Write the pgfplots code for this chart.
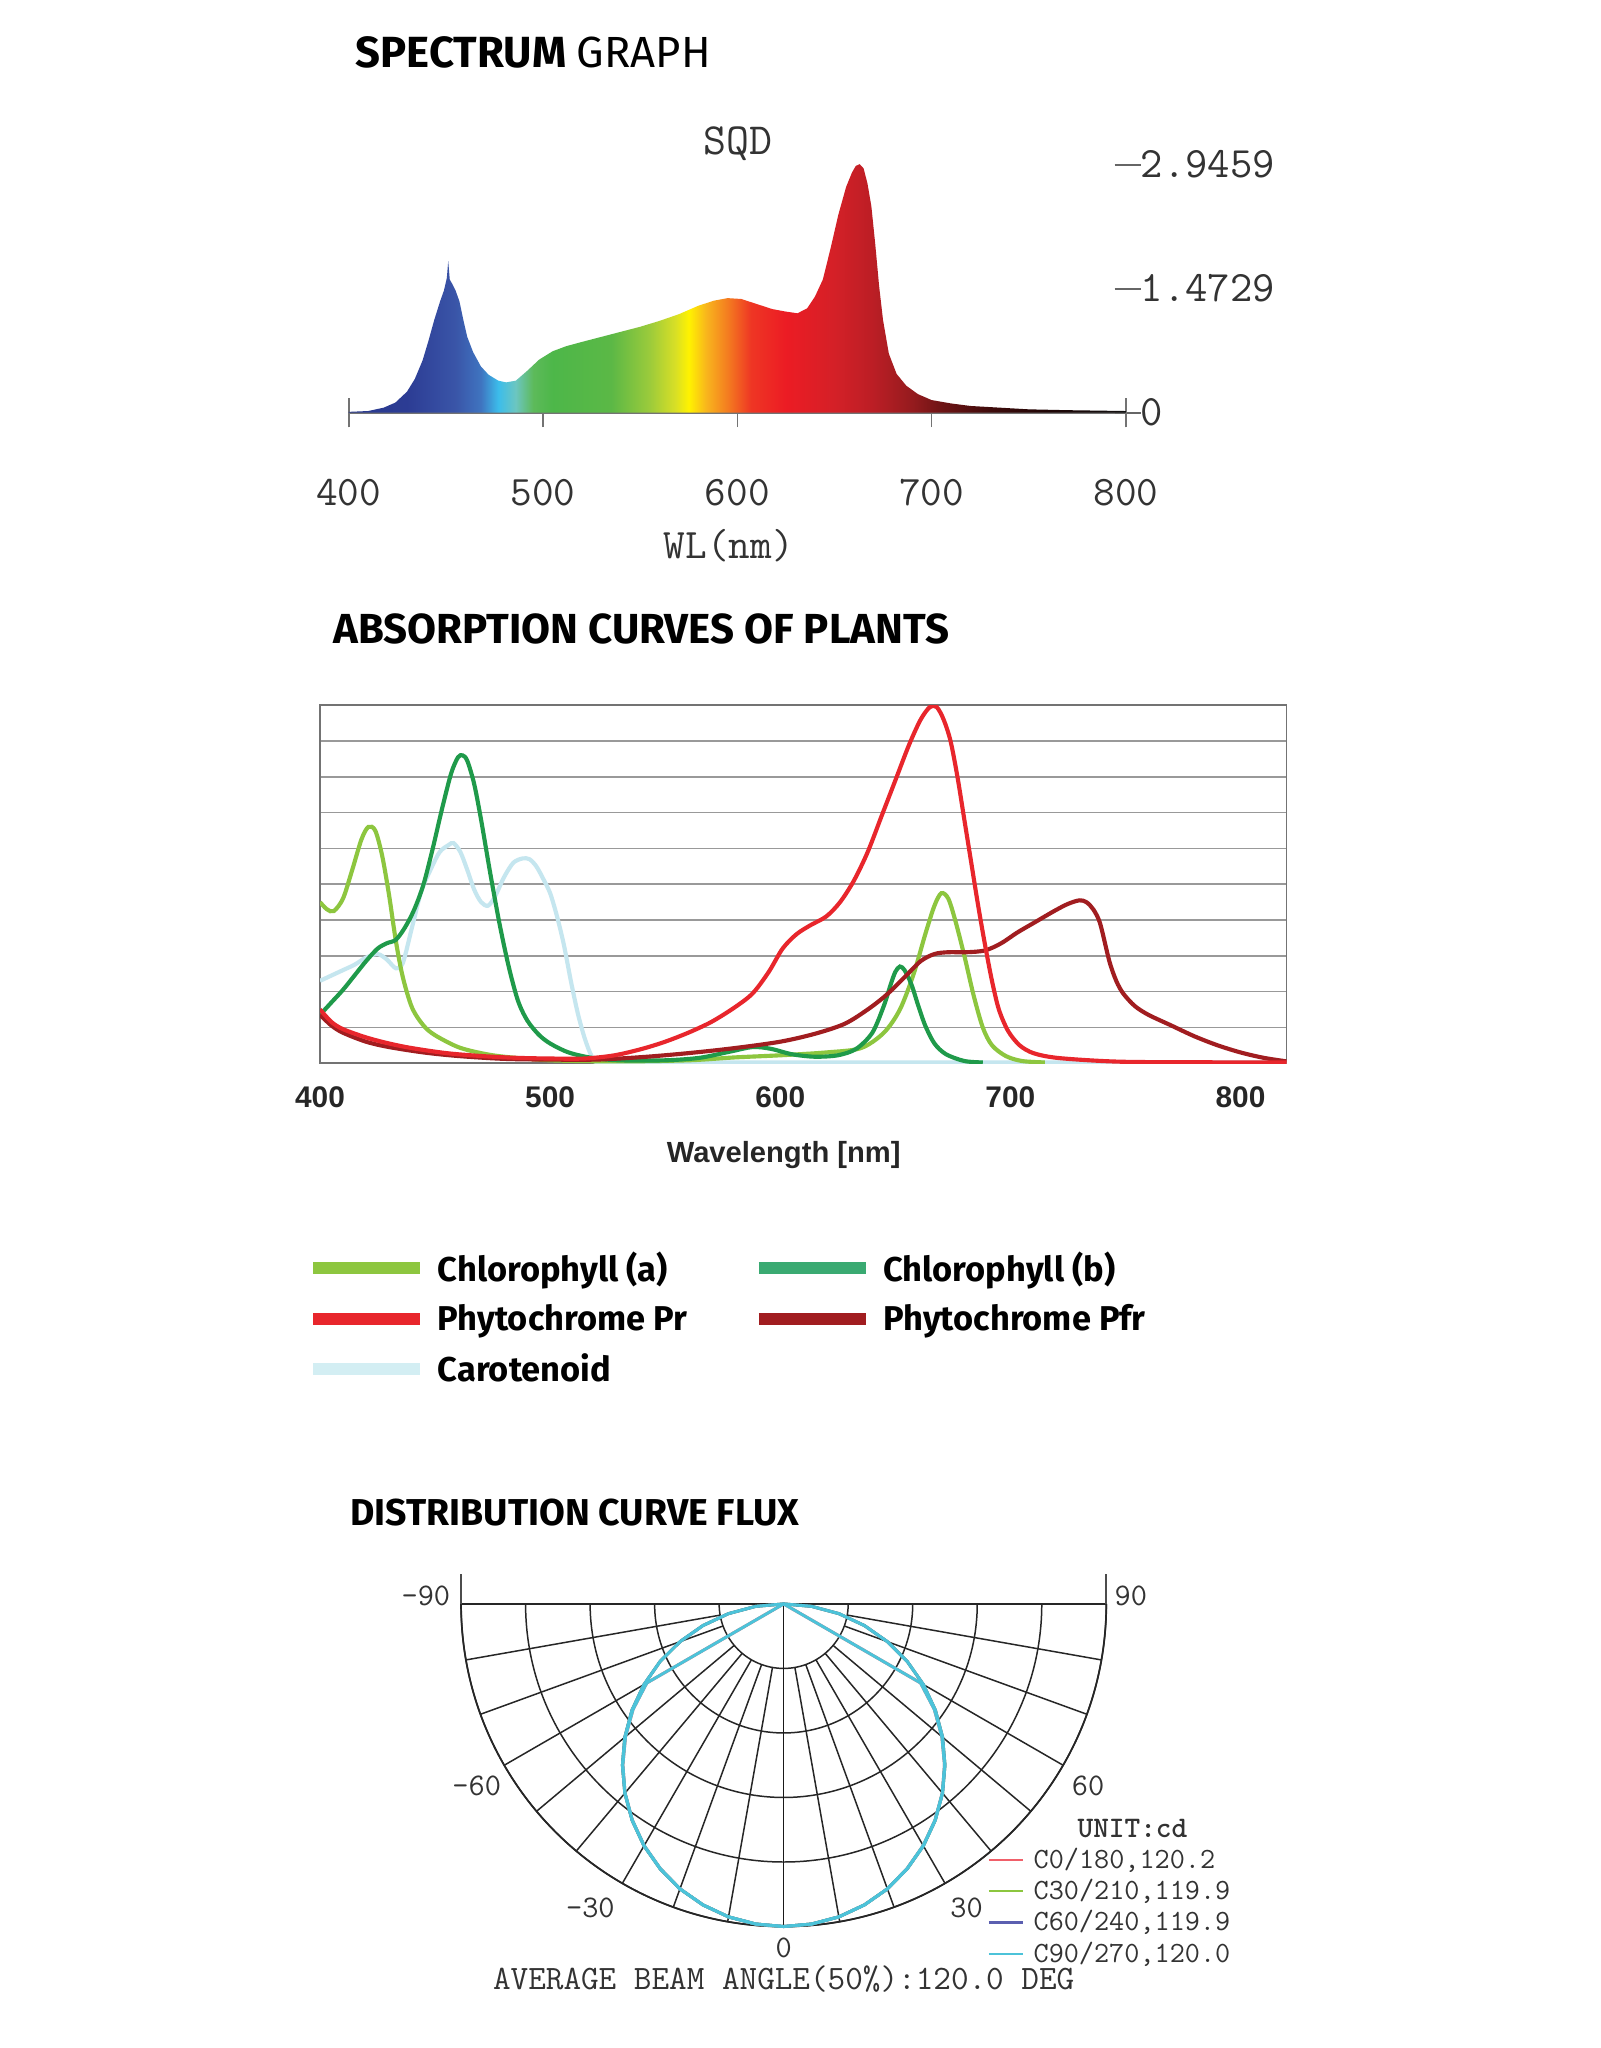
\documentclass[border=0pt]{standalone}
\usepackage{pgfplots}
\pgfplotsset{compat=1.18}
\usepgfplotslibrary{polar}
\usepackage{fontspec}
\setmainfont{Liberation Sans}
\newfontfamily\fira{Fira Sans}
\newcommand{\mono}{\ttfamily}

\definecolor{s400}{HTML}{2A3A8E}
\definecolor{s430}{HTML}{2C3C94}
\definecolor{s455}{HTML}{3A55A8}
\definecolor{s468}{HTML}{3F74C0}
\definecolor{s477}{HTML}{3CBDEB}
\definecolor{s486}{HTML}{6CC6C0}
\definecolor{s495}{HTML}{5DBA5A}
\definecolor{s505}{HTML}{4DB749}
\definecolor{s535}{HTML}{5BB846}
\definecolor{s555}{HTML}{9CCB3B}
\definecolor{s568}{HTML}{D8DF26}
\definecolor{s575}{HTML}{FFF200}
\definecolor{s584}{HTML}{F8B51D}
\definecolor{s595}{HTML}{F47C20}
\definecolor{s607}{HTML}{EE3624}
\definecolor{s625}{HTML}{EC1C24}
\definecolor{s650}{HTML}{D42027}
\definecolor{s670}{HTML}{BB1E25}
\definecolor{s690}{HTML}{951B1E}
\definecolor{s705}{HTML}{6E1415}
\definecolor{s730}{HTML}{3F0B0B}
\definecolor{s760}{HTML}{1E0505}
\definecolor{s800}{HTML}{111111}
\pgfdeclarehorizontalshading{spectrum}{100bp}{color(0bp)=(s400); color(25bp)=(s400);
 color(28.75bp)=(s430); color(31.875bp)=(s455); color(33.5bp)=(s468); color(34.625bp)=(s477);
 color(35.75bp)=(s486); color(36.875bp)=(s495); color(38.125bp)=(s505); color(41.875bp)=(s535);
 color(44.375bp)=(s555); color(46bp)=(s568); color(46.875bp)=(s575); color(48bp)=(s584);
 color(49.375bp)=(s595); color(50.875bp)=(s607); color(53.125bp)=(s625); color(56.25bp)=(s650);
 color(58.75bp)=(s670); color(61.25bp)=(s690); color(63.125bp)=(s705); color(66.25bp)=(s730);
 color(70bp)=(s760); color(75bp)=(s800); color(100bp)=(s800)}

\definecolor{cha}{HTML}{8DC63F}
\definecolor{chb}{HTML}{1F9A4A}
\definecolor{chbl}{HTML}{3AAA72}
\definecolor{ppr}{HTML}{E8262C}
\definecolor{pfr}{HTML}{A11D20}
\definecolor{car}{HTML}{C5E6EF}
\definecolor{carl}{HTML}{D3EEF3}
\definecolor{pcyan}{HTML}{4CC3D9}
\definecolor{pred}{HTML}{F0606A}
\definecolor{pgreen}{HTML}{8CC63F}
\definecolor{pblue}{HTML}{5B5FB0}
\definecolor{txtgray}{HTML}{333333}

\begin{document}
\begin{tikzpicture}
\fill[white] (0,0) rectangle (24.5,31.36);
\path[use as bounding box] (0,0) rectangle (24.5,31.36);

% ---------- titles ----------
\node[anchor=base west, inner sep=0] at (5.44,30.32) {\fira\fontsize{19}{22}\selectfont\bfseries SPECTRUM \mdseries GRAPH};
\node[anchor=base west, inner sep=0] at (5.10,21.50) {\fira\fontsize{18.3}{22}\selectfont\bfseries ABSORPTION CURVES OF PLANTS};
\node[anchor=base west, inner sep=0] at (5.36,8.00) {\fira\fontsize{16.3}{20}\selectfont\bfseries DISTRIBUTION CURVE FLUX};

% ---------- spectrum ----------
\begin{axis}[
  at={(5.34cm,25.04cm)}, anchor=south west, scale only axis,
  width=11.9cm, height=3.87cm,
  xmin=400, xmax=800, ymin=0, ymax=3,
  axis x line*=bottom, axis y line*=right, separate axis lines,
  x axis line style={-, draw=black!55, line width=0.7pt},
  y axis line style={draw=none},
  xtick={400,500,600,700,800},
  xticklabels={400,500,600,700,800},
  ytick={0,1.4729,2.9459},
  yticklabels={{\textcolor{black!60}{\rule[0.28em]{0.4cm}{0.7pt}}0},{\textcolor{black!60}{\rule[0.28em]{0.4cm}{0.7pt}}1.4729},{\textcolor{black!60}{\rule[0.28em]{0.4cm}{0.7pt}}2.9459}},
  tick align=outside, major tick length=0.22cm,
  tick style={black!55, line width=0.7pt},
  ytick style={draw=none},
  /pgf/number format/assume math mode=true,
  xticklabel style={font=\mono\fontsize{18.3}{20}\selectfont, text=txtgray, yshift=-0.67cm},
  yticklabel style={font=\mono\fontsize{18.9}{20}\selectfont, text=txtgray, anchor=west, inner sep=0pt, xshift=-0.4cm},
  extra x ticks={400,800}, extra x tick labels={},
  extra x tick style={tick align=center, major tick length=0.45cm},
  clip=false,
]
\addplot[draw=none, shading=spectrum] table {
400 0.01
410 0.02
418 0.06
424 0.12
430 0.25
434 0.40
438 0.62
441 0.85
444 1.10
447 1.32
449 1.45
450.5 1.60
451.2 1.80
452 1.58
453.5 1.52
455 1.45
457 1.32
459 1.10
461 0.90
464 0.72
468 0.55
472 0.45
477 0.38
481 0.36
486 0.38
492 0.50
498 0.63
505 0.73
512 0.79
520 0.84
530 0.90
540 0.96
550 1.02
560 1.09
570 1.17
580 1.27
588 1.33
595 1.36
602 1.35
610 1.29
618 1.23
625 1.20
631 1.18
636 1.24
640 1.38
644 1.58
648 1.95
652 2.35
656 2.68
659 2.85
661 2.93
663 2.95
665 2.90
667 2.72
669 2.45
671 2.00
673 1.50
675 1.10
678 0.70
682 0.46
687 0.32
693 0.22
700 0.15
710 0.11
720 0.08
735 0.06
750 0.04
770 0.03
800 0.02
} \closedcycle;
\end{axis}
\node[text=txtgray] at (11.30,29.16) {\mono\fontsize{19.4}{21}\selectfont SQD};
\node[text=txtgray] at (11.16,23.00) {\mono\fontsize{18.3}{20}\selectfont WL(nm)};

% ---------- absorption ----------
\begin{axis}[
  at={(4.9cm,15.08cm)}, anchor=south west, scale only axis,
  width=14.8cm, height=5.48cm,
  xmin=400, xmax=820, ymin=0, ymax=10,
  xtick={400,500,600,700,800}, xticklabels={400,500,600,700,800},
  ytick={0,1,2,3,4,5,6,7,8,9,10}, yticklabels={},
  ymajorgrids, grid style={black!40, line width=0.7pt},
  axis line style={black!55, line width=0.8pt},
  major tick length=0,
  /pgf/number format/assume math mode=true,
  xticklabel style={font=\bfseries\fontsize{13}{15}\selectfont, text=black!85, yshift=-0.24cm},
  no markers,
  every axis plot/.append style={line width=1.8pt, smooth, tension=0.5},
  legend columns=2,
  legend cell align=left,
  legend style={at={(axis description cs:-0.014,-0.512)}, anchor=north west, draw=none, fill=none, inner sep=0pt,
    font=\fira\bfseries\fontsize{15}{18}\selectfont,
    /tikz/every odd column/.append style={column sep=0.1cm},
    /tikz/every even column/.append style={column sep=0.93cm},
    row sep=0.16cm},
  legend image code/.code={\draw[line width=5.5pt] (0cm,0cm) -- (1.64cm,0cm);},
]
\addplot[car, forget plot] table {
400 2.3
405 2.45
410 2.6
415 2.75
420 2.95
425 3.05
429 2.9
433 2.65
436 2.8
440 3.8
444 4.8
448 5.4
452 5.9
456 6.1
458 6.15
461 5.9
464 5.4
467 4.85
470 4.5
473 4.4
476 4.65
480 5.2
484 5.6
488 5.72
491 5.7
494 5.5
497 5.15
500 4.75
503 4.1
506 3.3
509 2.3
512 1.4
515 0.7
518 0.2
521 0.02
540 0.02
600 0.02
700 0.02
820 0.02
};
\addplot[cha, forget plot] table {
400 4.5
403 4.3
406 4.25
410 4.6
414 5.4
418 6.25
421 6.6
424 6.5
427 5.8
430 4.7
433 3.4
436 2.4
440 1.55
445 1.05
450 0.78
460 0.45
470 0.28
480 0.18
500 0.08
530 0.05
560 0.08
580 0.16
600 0.22
620 0.30
635 0.42
645 0.85
652 1.5
658 2.5
663 3.6
667 4.4
670 4.75
673 4.6
676 4.0
680 3.0
684 1.9
688 1.0
692 0.5
698 0.2
705 0.06
715 0.02
};
\addplot[chb, forget plot] table {
400 1.35
405 1.7
410 2.05
415 2.45
420 2.85
425 3.2
429 3.35
433 3.45
437 3.8
441 4.3
445 5.0
449 6.0
453 7.1
457 8.1
460 8.55
462 8.6
464 8.45
467 7.8
470 6.8
474 5.3
478 3.9
482 2.7
486 1.75
490 1.2
495 0.8
500 0.55
508 0.3
518 0.15
530 0.08
550 0.08
565 0.15
578 0.32
588 0.45
596 0.4
605 0.25
615 0.18
625 0.22
633 0.4
640 0.85
645 1.6
648 2.2
650 2.55
652 2.7
654 2.6
657 2.2
660 1.6
663 1.05
667 0.55
672 0.25
680 0.06
688 0.02
};
\addplot[pfr, forget plot] table {
400 1.35
405 1.05
410 0.85
420 0.6
430 0.45
445 0.3
460 0.2
480 0.12
500 0.1
520 0.1
540 0.17
560 0.28
580 0.42
600 0.6
615 0.82
628 1.1
638 1.5
646 1.9
654 2.4
661 2.85
667 3.05
673 3.1
681 3.1
689 3.15
696 3.35
703 3.65
711 3.95
719 4.25
725 4.45
730 4.55
733 4.5
736 4.3
739 3.9
743 2.85
746 2.3
749 1.95
754 1.6
760 1.35
770 1.05
780 0.75
790 0.5
800 0.3
810 0.15
820 0.05
};
\addplot[ppr, forget plot] table {
400 1.5
405 1.15
410 0.95
420 0.72
430 0.55
440 0.42
455 0.28
470 0.2
485 0.15
500 0.13
515 0.13
528 0.22
540 0.4
550 0.6
560 0.85
570 1.15
580 1.55
588 1.95
595 2.55
601 3.2
607 3.6
613 3.85
620 4.1
626 4.5
632 5.1
638 5.9
644 6.9
650 7.9
656 8.9
661 9.6
665 9.95
668 9.95
671 9.6
674 9.0
677 8.0
680 6.8
683 5.6
686 4.4
689 3.3
692 2.3
695 1.5
699 0.9
704 0.5
710 0.28
720 0.15
740 0.06
760 0.03
820 0.02
};
\addlegendimage{cha}\addlegendentry{Chlorophyll (a)}
\addlegendimage{chbl}\addlegendentry{Chlorophyll (b)}
\addlegendimage{ppr}\addlegendentry{Phytochrome Pr}
\addlegendimage{pfr}\addlegendentry{Phytochrome Pfr}
\addlegendimage{carl}\addlegendentry{Carotenoid}
\end{axis}
\node[text=black!85] at (12.0,13.68) {\bfseries\fontsize{12.7}{15}\selectfont Wavelength [nm]};

% ---------- polar ----------
\begin{polaraxis}[
  at={(12cm,6.8cm)}, anchor=origin, scale only axis,
  width=9.88cm, height=9.88cm,
  xmin=-180, xmax=0, ymin=0, ymax=1,
  xtick=\empty,
  ytick={0.2,0.4,0.6,0.8,1}, yticklabels={},
  ymajorgrids, y grid style={black!85, line width=0.65pt},
  axis line style={black!85, line width=0.75pt},
  major tick length=0,
  no markers,
  clip=false,
]
\pgfplotsinvokeforeach{-170,-160,-150,-140,-130,-120,-110,-100,-80,-70,-60,-50,-40,-30,-20,-10}{
  \draw[black!85, line width=0.65pt] (axis cs:#1,0.2) -- (axis cs:#1,1);
}
\draw[black!90, line width=0.7pt] (axis cs:-90,0) -- (axis cs:-90,1);
\draw[black!70, line width=0.7pt] (axis cs:-180,1) -- ++(0,0.46cm);
\draw[black!70, line width=0.7pt] (axis cs:0,1) -- ++(0,0.46cm);
\addplot[pred, line width=1.3pt] coordinates {(-180,0) (-150,0.49) (-145,0.57) (-140,0.64) (-135,0.705) (-130,0.765) (-125,0.818) (-120,0.865) (-115,0.905) (-110,0.94) (-105,0.966) (-100,0.985) (-95,0.996) (-90,1) (-85,0.996) (-80,0.985) (-75,0.966) (-70,0.94) (-65,0.905) (-60,0.865) (-55,0.818) (-50,0.765) (-45,0.705) (-40,0.64) (-35,0.57) (-30,0.49) (0,0)};
\addplot[pgreen, line width=1.3pt] coordinates {(-180,0) (-175,0.087) (-170,0.174) (-165,0.259) (-160,0.342) (-155,0.423) (-150,0.5) (-145,0.574) (-140,0.643) (-135,0.707) (-130,0.766) (-125,0.819) (-120,0.866) (-115,0.906) (-110,0.94) (-105,0.966) (-100,0.985) (-95,0.996) (-90,1) (-85,0.996) (-80,0.985) (-75,0.966) (-70,0.94) (-65,0.906) (-60,0.866) (-55,0.819) (-50,0.766) (-45,0.707) (-40,0.643) (-35,0.574) (-30,0.5) (-25,0.423) (-20,0.342) (-15,0.259) (-10,0.174) (-5,0.087) (0,0)};
\addplot[pblue, line width=1.3pt] coordinates {(-180,0) (-175,0.087) (-170,0.174) (-165,0.259) (-160,0.342) (-155,0.423) (-150,0.5) (-145,0.574) (-140,0.643) (-135,0.707) (-130,0.766) (-125,0.819) (-120,0.866) (-115,0.906) (-110,0.94) (-105,0.966) (-100,0.985) (-95,0.996) (-90,1) (-85,0.996) (-80,0.985) (-75,0.966) (-70,0.94) (-65,0.906) (-60,0.866) (-55,0.819) (-50,0.766) (-45,0.707) (-40,0.643) (-35,0.574) (-30,0.5) (-25,0.423) (-20,0.342) (-15,0.259) (-10,0.174) (-5,0.087) (0,0)};
\addplot[pcyan, line width=1.3pt] coordinates {(-180,0) (-150,0.49) (-145,0.57) (-140,0.64) (-135,0.705) (-130,0.765) (-125,0.818) (-120,0.865) (-115,0.905) (-110,0.94) (-105,0.966) (-100,0.985) (-95,0.996) (-90,1) (-85,0.996) (-80,0.985) (-75,0.966) (-70,0.94) (-65,0.905) (-60,0.865) (-55,0.818) (-50,0.765) (-45,0.705) (-40,0.64) (-35,0.57) (-30,0.49) (0,0)};
\addplot[pcyan, line width=1.3pt] coordinates {(-180,0) (-175,0.087) (-170,0.174) (-165,0.259) (-160,0.342) (-155,0.423) (-150,0.5) (-145,0.574) (-140,0.643) (-135,0.707) (-130,0.766) (-125,0.819) (-120,0.866) (-115,0.906) (-110,0.94) (-105,0.966) (-100,0.985) (-95,0.996) (-90,1) (-85,0.996) (-80,0.985) (-75,0.966) (-70,0.94) (-65,0.906) (-60,0.866) (-55,0.819) (-50,0.766) (-45,0.707) (-40,0.643) (-35,0.574) (-30,0.5) (-25,0.423) (-20,0.342) (-15,0.259) (-10,0.174) (-5,0.087) (0,0)};
\end{polaraxis}
\begin{scope}[every node/.style={text=txtgray, inner sep=0pt}]
\node[anchor=east] at (6.90,6.92) {\mono\fontsize{13.7}{15}\selectfont -90};
\node[anchor=west] at (17.06,6.92) {\mono\fontsize{13.7}{15}\selectfont 90};
\node at (7.30,4.02) {\mono\fontsize{13.7}{15}\selectfont -60};
\node at (16.66,4.02) {\mono\fontsize{13.7}{15}\selectfont 60};
\node at (9.04,2.14) {\mono\fontsize{13.7}{15}\selectfont -30};
\node at (14.80,2.14) {\mono\fontsize{13.7}{15}\selectfont 30};
\node at (12.0,1.54) {\mono\fontsize{13.7}{15}\selectfont 0};
\node at (17.34,3.36) {\mono\bfseries\fontsize{13}{15}\selectfont UNIT:cd};
\node at (12.0,1.06) {\mono\fontsize{14.9}{16}\selectfont AVERAGE BEAM ANGLE(50\%):120.0 DEG};
\node[anchor=west] at (15.82,2.88) {\mono\fontsize{12.8}{14}\selectfont C0/180,120.2};
\node[anchor=west] at (15.82,2.40) {\mono\fontsize{12.8}{14}\selectfont C30/210,119.9};
\node[anchor=west] at (15.82,1.92) {\mono\fontsize{12.8}{14}\selectfont C60/240,119.9};
\node[anchor=west] at (15.82,1.44) {\mono\fontsize{12.8}{14}\selectfont C90/270,120.0};
\end{scope}
\draw[pred, line width=1pt] (15.14,2.88) -- (15.66,2.88);
\draw[pgreen, line width=1pt] (15.14,2.40) -- (15.66,2.40);
\draw[pblue, line width=1pt] (15.14,1.92) -- (15.66,1.92);
\draw[pcyan, line width=1pt] (15.14,1.44) -- (15.66,1.44);
\end{tikzpicture}
\end{document}
